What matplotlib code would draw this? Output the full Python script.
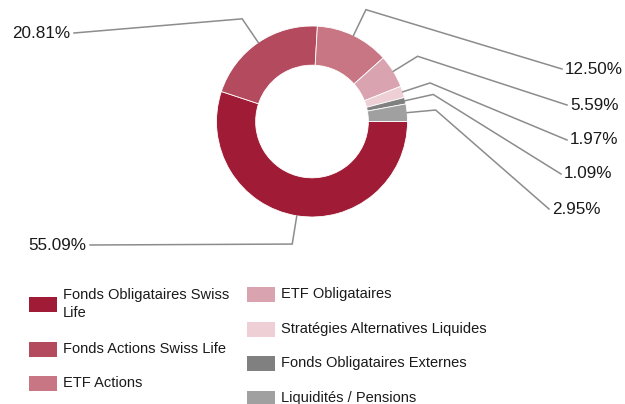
import numpy as np
import matplotlib
matplotlib.use('Agg')
import matplotlib.pyplot as plt
from matplotlib.patches import Rectangle

plt.rcParams['font.family'] = ['Liberation Sans', 'DejaVu Sans']

# données
categories = ['Fonds Obligataires Swiss\nLife', 'Fonds Actions Swiss Life', 'ETF Actions',
              'ETF Obligataires', 'Stratégies Alternatives Liquides',
              'Fonds Obligataires Externes', 'Liquidités / Pensions']
values = [55.09, 20.81, 12.50, 5.59, 1.97, 1.09, 2.95]
colors = ['#a01c36', '#b34a5e', '#c87683', '#d9a4af', '#edcfd5', '#808080', '#a0a0a0']

# mise en page (pixels, origine en haut à gauche)
W, H = 625, 404
cx, cy, R = 312, 121.5, 95.5
# position du texte : (x, y, alignement)
label_pos = [(86, 245, 'right'), (70, 33, 'right'), (565, 69, 'left'), (570, 105, 'left'),
             (570, 140, 'left'), (564, 174, 'left'), (552, 209, 'left')]
# position de légende : (colonne, y)
legend_pos = [(0, 304), (0, 349), (0, 383), (1, 294), (1, 329), (1, 363), (1, 398)]

fig = plt.figure(figsize=(W / 100, H / 100), dpi=100)
ax = fig.add_axes([0, 0, 1, 1])

ax.pie(values, colors=colors, startangle=0, counterclock=False,
       center=(cx, H - cy), radius=R,
       wedgeprops=dict(width=R * 0.41, edgecolor='white', linewidth=0.6))

# lignes de rappel + étiquettes
ends = np.cumsum(values) / sum(values) * 360
starts = ends - np.array(values) / sum(values) * 360
for i, v in enumerate(values):
    mid = np.deg2rad(-(starts[i] + ends[i]) / 2)
    p0 = (cx + R * np.cos(mid), H - cy + R * np.sin(mid))
    p1 = (cx + 1.3 * R * np.cos(mid), H - cy + 1.3 * R * np.sin(mid))
    tx, ty, ha = label_pos[i]
    gap = 4 if ha == 'right' else -3
    ax.plot([p0[0], p1[0], tx + gap], [p0[1], p1[1], H - ty], color='#8c8c8c', lw=1.1,
            solid_joinstyle='miter')
    ax.text(tx, H - ty, '%.2f%%' % v, ha=ha, va='center', fontsize=12.3, color='#1a1a1a')

# légende
col_x = [29, 247]
for i, name in enumerate(categories):
    c, y = legend_pos[i]
    ax.add_patch(Rectangle((col_x[c], H - y - 7.5), 28, 15, facecolor=colors[i], edgecolor='none'))
    ax.text(col_x[c] + 34, H - y, name, ha='left', va='center', fontsize=10.5,
            color='#1a1a1a', linespacing=1.35)

ax.set_xlim(0, W)
ax.set_ylim(0, H)
ax.set_aspect('equal')
ax.axis('off')

fig.savefig('out.png', dpi=100)
